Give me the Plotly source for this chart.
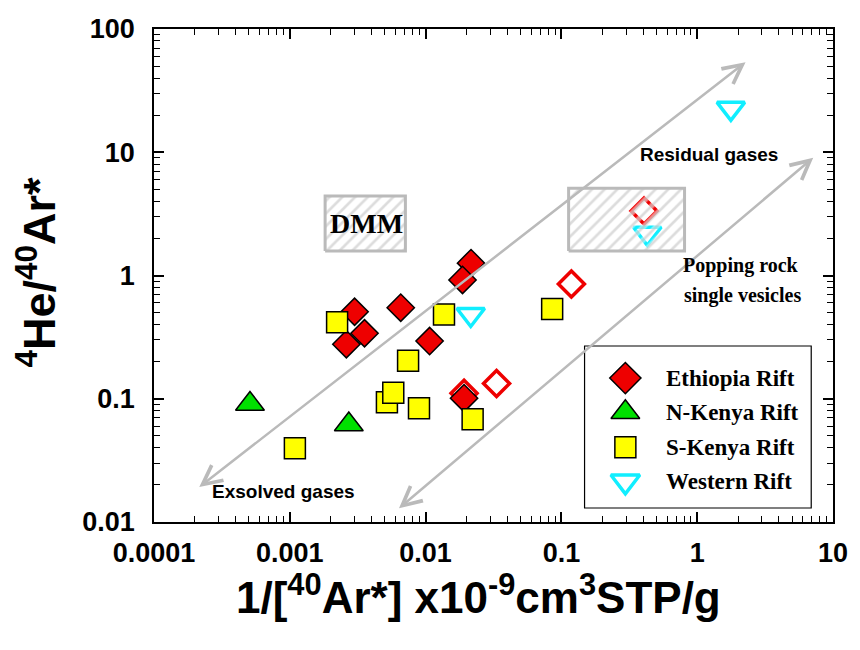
import numpy as np
import plotly.graph_objects as go

# ---- data: 1/[40Ar*] (x) vs 4He/40Ar* (y) ----
eth_x = [0.00300, 0.00355, 0.00261, 0.00656, 0.0107, 0.0216, 0.0187, 0.0192]
eth_y = [0.508, 0.340, 0.277, 0.548, 0.294, 1.26, 0.92, 0.101]
# Ethiopia Rift samples plotted with open symbols
eth_open_x = [0.0192, 0.0333, 0.1185, 0.406]
eth_open_y = [0.111, 0.133, 0.853, 3.34]
nk_x = [0.000509, 0.00272]
nk_y = [0.0908, 0.0619]
sk_x = [0.00223, 0.01366, 0.00743, 0.00519, 0.00578, 0.00894, 0.0222, 0.00109, 0.0855]
sk_y = [0.417, 0.483, 0.2035, 0.0936, 0.112, 0.0837, 0.0681, 0.0396, 0.535]
wr_x = [0.0215, 1.77, 0.429]
wr_y = [0.483, 22.7, 2.20]

# reference fields
dmm_x = [0.00182, 0.0071]
dmm_y = [1.58, 4.42]
pop_x = [0.113, 0.807]
pop_y = [1.58, 5.10]

# degassing trends (tail x, tail y, head x, head y)
trend_upper = [0.000210, 0.0188, 2.27, 53.8]
trend_lower = [0.00621, 0.0126, 7.15, 9.04]

x_ticks = [1e-4, 1e-3, 1e-2, 1e-1, 1, 10]
x_ticklabels = ["0.0001", "0.001", "0.01", "0.1", "1", "10"]
y_ticks = [0.01, 0.1, 1, 10, 100]
y_ticklabels = ["0.01", "0.1", "1", "10", "100"]

legend_names = ["Ethiopia Rift", "N-Kenya Rift", "S-Kenya Rift", "Western Rift"]

RED = "#ee0000"
GREEN = "#00e000"
YELLOW = "#ffff00"
CYAN = "#11eeff"
HATCH = "#bababa"
SANS = "Liberation Sans, Arial, sans-serif"
SERIF = "Liberation Serif, Times New Roman, serif"

fig = go.Figure()


def box_path(bx, by):
    return ([bx[0], bx[1], bx[1], bx[0], bx[0]], [by[0], by[0], by[1], by[1], by[0]])


# DMM field (hatched, white background)
px_, py_ = box_path(dmm_x, dmm_y)
fig.add_trace(go.Scatter(
    x=px_, y=py_, mode="lines", fill="toself", fillcolor="white",
    fillpattern=dict(shape="/", fgcolor=HATCH, bgcolor="white", size=9, solidity=0.3),
    line=dict(color=HATCH, width=3), hoverinfo="skip", showlegend=False))

# samples
fig.add_trace(go.Scatter(
    x=eth_open_x, y=eth_open_y, mode="markers", showlegend=False,
    marker=dict(symbol="diamond-open", size=20, color=RED, line=dict(color=RED, width=3.5))))
fig.add_trace(go.Scatter(
    x=eth_x, y=eth_y, mode="markers", name=legend_names[0], showlegend=False,
    marker=dict(symbol="diamond", size=21, color=RED, line=dict(color="black", width=1.5))))
fig.add_trace(go.Scatter(
    x=sk_x, y=sk_y, mode="markers", name=legend_names[2], showlegend=False,
    marker=dict(symbol="square", size=21, color=YELLOW, line=dict(color="black", width=1.5))))
fig.add_trace(go.Scatter(
    x=nk_x, y=nk_y, mode="markers", name=legend_names[1], showlegend=False,
    marker=dict(symbol="triangle-up", size=25, color=GREEN, line=dict(color="black", width=1.5))))
fig.add_trace(go.Scatter(
    x=wr_x, y=wr_y, mode="markers", name=legend_names[3], showlegend=False,
    marker=dict(symbol="triangle-down-open", size=24, color=CYAN, line=dict(color=CYAN, width=3.5))))

# popping-rock field drawn over the samples: white halo stripes then grey hatch
px_, py_ = box_path(pop_x, pop_y)
fig.add_trace(go.Scatter(
    x=px_, y=py_, mode="lines", fill="toself", fillcolor="rgba(0,0,0,0)",
    fillpattern=dict(shape="/", fgcolor="white", bgcolor="rgba(0,0,0,0)", size=9, solidity=0.6),
    line=dict(color="rgba(0,0,0,0)", width=0), hoverinfo="skip", showlegend=False))
fig.add_trace(go.Scatter(
    x=px_, y=py_, mode="lines", fill="toself", fillcolor="rgba(0,0,0,0)",
    fillpattern=dict(shape="/", fgcolor=HATCH, bgcolor="rgba(0,0,0,0)", size=9, solidity=0.3),
    line=dict(color=HATCH, width=3), hoverinfo="skip", showlegend=False))

# trend arrows
for tr in (trend_upper, trend_lower):
    fig.add_annotation(
        x=np.log10(tr[2]), y=np.log10(tr[3]), ax=np.log10(tr[0]), ay=np.log10(tr[1]),
        xref="x", yref="y", axref="x", ayref="y", text="", showarrow=True,
        arrowside="end+start", arrowhead=5, startarrowhead=5,
        arrowsize=1.5, startarrowsize=1.5, arrowwidth=2.5, arrowcolor=HATCH)

# field / trend labels
fig.add_annotation(x=-2.433, y=0.426, xref="x", yref="y", text="DMM", showarrow=False,
                   font=dict(family=SERIF, size=28, color="black", weight="bold"))
fig.add_annotation(x=0.089, y=0.978, xref="x", yref="y", text="Residual gases", showarrow=False,
                   font=dict(family=SANS, size=19, color="black", weight="bold"))
fig.add_annotation(x=0.325, y=0.085, xref="x", yref="y", text="Popping rock", showarrow=False,
                   font=dict(family=SERIF, size=20, color="black", weight="bold"))
fig.add_annotation(x=0.333, y=-0.166, xref="x", yref="y", text="single vesicles", showarrow=False,
                   font=dict(family=SERIF, size=20, color="black", weight="bold"))
fig.add_annotation(x=-3.045, y=-1.7485, xref="x", yref="y", text="Exsolved gases", showarrow=False,
                   font=dict(family=SANS, size=19, color="black", weight="bold"))

# legend panel (own hidden axes so symbols keep their full size)
leg_sym = ["diamond", "triangle-up", "square", "triangle-down-open"]
leg_fill = [RED, GREEN, YELLOW, CYAN]
leg_line = ["black", "black", "black", CYAN]
leg_lw = [1.5, 1.5, 1.5, 3.5]
leg_size = [24, 25, 21, 25]
leg_rows = [0.198, 0.409, 0.625, 0.835]
for i, nm in enumerate(legend_names):
    fig.add_trace(go.Scatter(
        x=[0.18], y=[leg_rows[i]], xaxis="x2", yaxis="y2", mode="markers", showlegend=False,
        hoverinfo="skip",
        marker=dict(symbol=leg_sym[i], size=leg_size[i], color=leg_fill[i],
                    line=dict(color=leg_line[i], width=leg_lw[i]))))
    fig.add_annotation(x=0.35, y=leg_rows[i], xref="x2", yref="y2", text=nm, showarrow=False,
                       xanchor="left", font=dict(family=SERIF, size=23, color="black", weight="bold"))

L, R, T, B = 154, 20, 29, 128
W, H = 860, 650
pw, ph = W - L - R, H - T - B


def fx(px):
    return (px - L) / pw


def fy(py):
    return (H - B - py) / ph


fig.add_shape(type="rect", xref="paper", yref="paper",
              x0=fx(589), x1=fx(818), y0=fy(508), y1=fy(346),
              fillcolor="white", line=dict(color="black", width=1.2), layer="below")

minor_x = [k * 10.0 ** d for d in range(-4, 1) for k in range(2, 10)]
minor_y = [k * 10.0 ** d for d in range(-2, 2) for k in range(2, 10)]

axis_common = dict(
    type="log", tickmode="array", ticks="inside", ticklen=10, tickwidth=1.5, tickcolor="black",
    showline=True, linecolor="black", linewidth=1.5, mirror="ticks", showgrid=False, zeroline=False,
    tickfont=dict(family=SANS, size=27, color="black", weight="bold"),
)

fig.update_layout(
    width=W, height=H, margin=dict(l=L, r=R, t=T, b=B),
    paper_bgcolor="white", plot_bgcolor="rgba(0,0,0,0)", showlegend=False,
    xaxis=dict(range=[-4, 1], tickvals=x_ticks, ticktext=x_ticklabels, ticklabelstandoff=6,
               minor=dict(tickvals=minor_x, ticks="inside", ticklen=6, tickwidth=1.2,
                          tickcolor="black", showgrid=False),
               **axis_common),
    yaxis=dict(range=[-2, 2], tickvals=y_ticks, ticktext=y_ticklabels, ticklabelstandoff=12,
               minor=dict(tickvals=minor_y, ticks="inside", ticklen=6, tickwidth=1.2,
                          tickcolor="black", showgrid=False),
               **axis_common),
    xaxis2=dict(domain=[fx(589), fx(818)], range=[0, 1], visible=False, anchor="y2",
                fixedrange=True),
    yaxis2=dict(domain=[fy(508), fy(346)], range=[1, 0], visible=False, anchor="x2",
                fixedrange=True),
)

# axis titles
fig.add_annotation(xref="paper", yref="paper", x=fx(482), y=fy(624), showarrow=False,
                   text="1/[<sup>40</sup>Ar*] x10<sup>-9</sup>cm<sup>3</sup>STP/g",
                   font=dict(family=SANS, size=44, color="black", weight="bold"))
fig.add_annotation(xref="paper", yref="paper", x=fx(4), y=fy(272), showarrow=False,
                   textangle=-90, text="<sup>4</sup>He/<sup>40</sup>Ar*",
                   font=dict(family=SANS, size=45, color="black", weight="bold"))

fig.write_html("out.html")
